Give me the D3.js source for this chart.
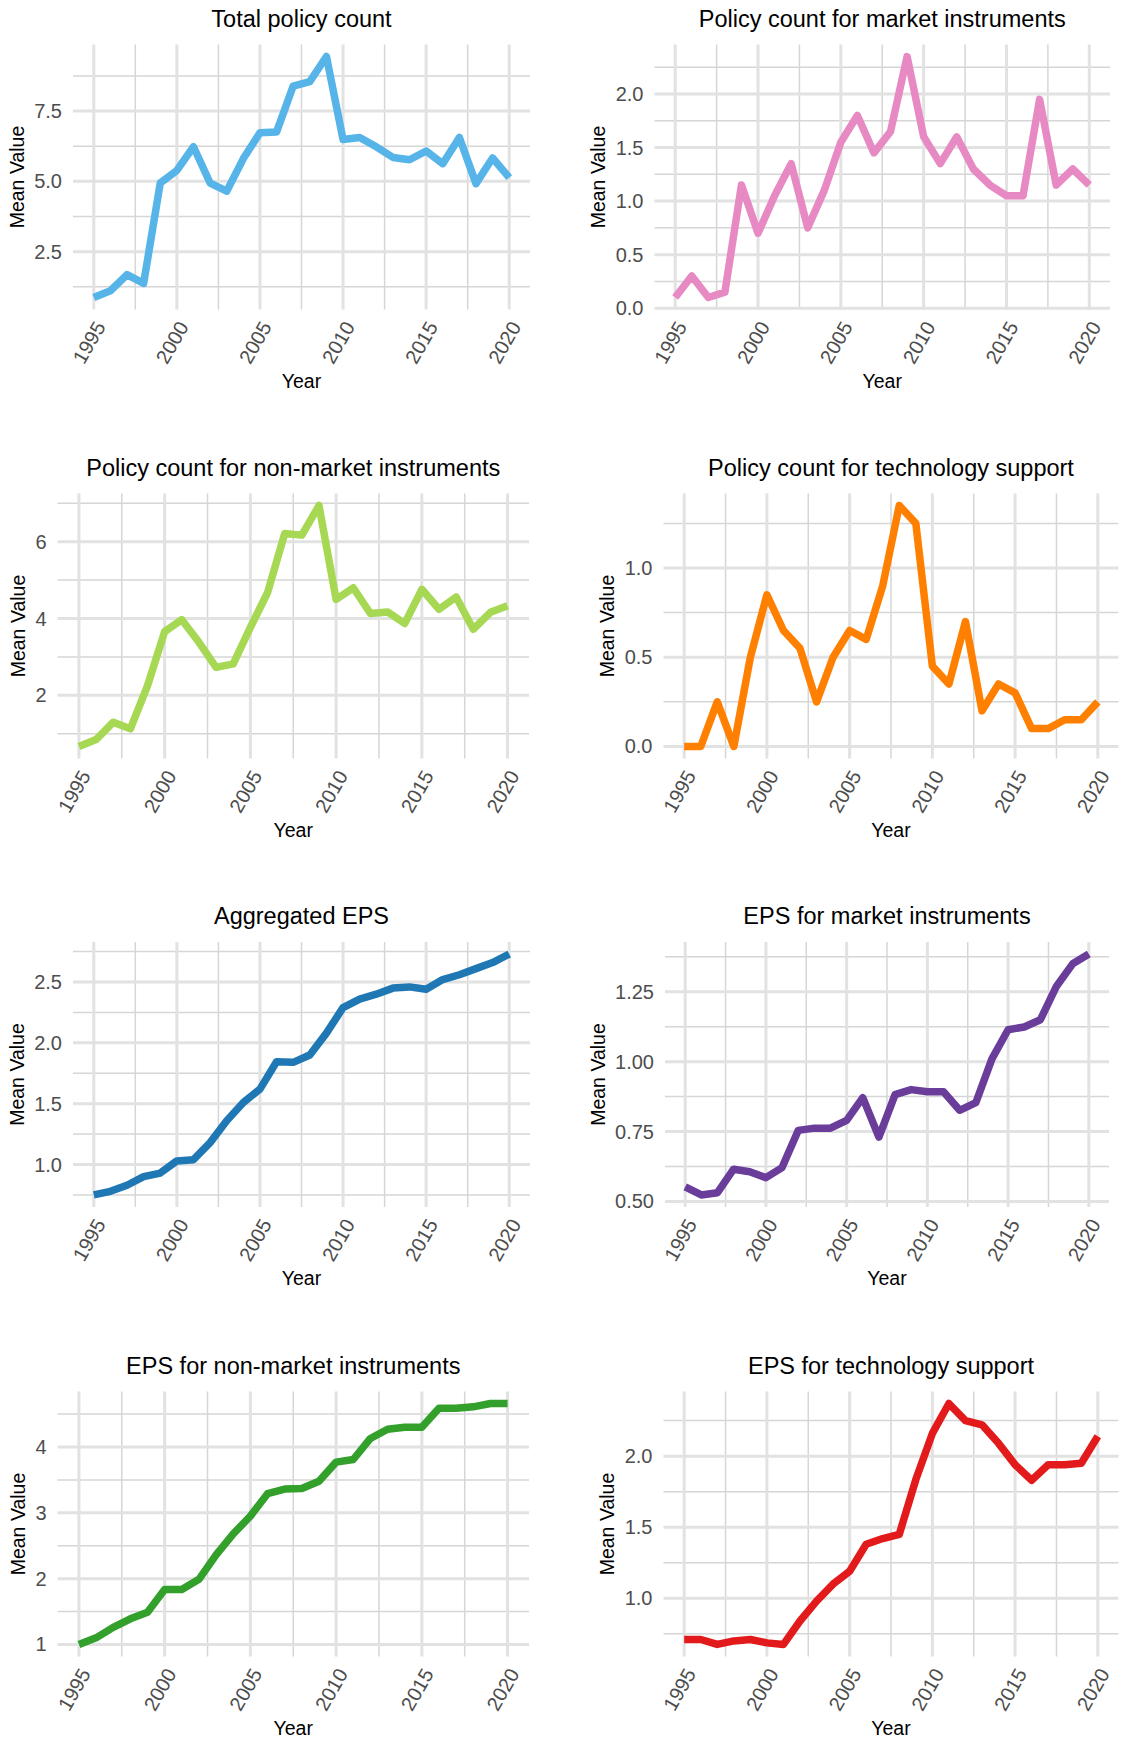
<!DOCTYPE html>
<html>
<head>
<meta charset="utf-8">
<script src="https://cdn.jsdelivr.net/npm/d3@7"></script>
<style>
  body { margin: 0; background: #fff; }
  text { font-family: "Liberation Sans", Arial, sans-serif; }
</style>
</head>
<body>
<script>
// years on the x axis
var years = [1995, 1996, 1997, 1998, 1999, 2000, 2001, 2002, 2003, 2004, 2005, 2006, 2007,
             2008, 2009, 2010, 2011, 2012, 2013, 2014, 2015, 2016, 2017, 2018, 2019, 2020];
var yearTicks = [1995, 2000, 2005, 2010, 2015, 2020];

// mean values per panel
var totalCount = [0.87, 1.11, 1.68, 1.37, 4.94, 5.39, 6.23, 4.94, 4.65, 5.81, 6.73, 6.76, 8.39,
                  8.55, 9.44, 6.49, 6.56, 6.23, 5.85, 5.77, 6.08, 5.63, 6.56, 4.92, 5.83, 5.13];
var marketCount = [0.1, 0.3, 0.1, 0.15, 1.15, 0.7, 1.05, 1.35, 0.75, 1.1, 1.55, 1.8, 1.45,
                   1.65, 2.35, 1.6, 1.35, 1.6, 1.3, 1.15, 1.05, 1.05, 1.95, 1.15, 1.3, 1.15];
var nonMarketCount = [0.67, 0.85, 1.3, 1.13, 2.25, 3.66, 3.97, 3.38, 2.73, 2.82, 3.77, 4.67, 6.21,
                      6.17, 6.94, 4.5, 4.8, 4.13, 4.17, 3.87, 4.76, 4.24, 4.56, 3.72, 4.16, 4.33];
var techCount = [0, 0, 0.25, 0, 0.5, 0.85, 0.65, 0.55, 0.25, 0.5, 0.65, 0.6, 0.9,
                 1.35, 1.25, 0.45, 0.35, 0.7, 0.2, 0.35, 0.3, 0.1, 0.1, 0.15, 0.15, 0.25];
var epsAll = [0.75, 0.78, 0.83, 0.9, 0.93, 1.03, 1.04, 1.18, 1.36, 1.51, 1.62, 1.845, 1.84,
              1.9, 2.08, 2.29, 2.36, 2.4, 2.45, 2.46, 2.44, 2.52, 2.56, 2.61, 2.66, 2.73];
var epsMarket = [0.552, 0.523, 0.531, 0.615, 0.606, 0.585, 0.621, 0.754, 0.762, 0.762, 0.79, 0.871, 0.73,
                 0.882, 0.9, 0.892, 0.892, 0.826, 0.853, 1.01, 1.114, 1.124, 1.15, 1.27, 1.35, 1.385];
var epsNonMarket = [1.0, 1.1, 1.26, 1.39, 1.49, 1.835, 1.835, 1.99, 2.36, 2.68, 2.95, 3.29, 3.36,
                    3.37, 3.48, 3.77, 3.81, 4.13, 4.27, 4.3, 4.3, 4.59, 4.59, 4.61, 4.66, 4.66];
var epsTech = [0.71, 0.71, 0.675, 0.7, 0.71, 0.686, 0.675, 0.84, 0.98, 1.1, 1.19, 1.38, 1.42,
               1.45, 1.835, 2.16, 2.37, 2.25, 2.22, 2.09, 1.94, 1.83, 1.94, 1.94, 1.95, 2.14];

// y tick labels per panel
var ticksTotal = [2.5, 5.0, 7.5];
var ticksMarket = [0.0, 0.5, 1.0, 1.5, 2.0];
var ticksNonMarket = [2, 4, 6];
var ticksTech = [0.0, 0.5, 1.0];
var ticksEpsAll = [1.0, 1.5, 2.0, 2.5];
var ticksEpsMarket = [0.50, 0.75, 1.00, 1.25];
var ticksEpsNonMarket = [1, 2, 3, 4];
var ticksEpsTech = [1.0, 1.5, 2.0];

var w = 1121, h = 1740;
var ph = 265;  // plot area height

var panels = [
  {title: "Total policy count", values: totalCount, ticks: ticksTotal, fmt: ".1f",
   color: "#56B4E9", left: 73, right: 530, top: 44.5},
  {title: "Policy count for market instruments", values: marketCount, ticks: ticksMarket, fmt: ".1f",
   color: "#E78AC3", left: 654.5, right: 1110, top: 44.5},
  {title: "Policy count for non-market instruments", values: nonMarketCount, ticks: ticksNonMarket, fmt: "d",
   color: "#A6D854", left: 57.5, right: 529, top: 493.5},
  {title: "Policy count for technology support", values: techCount, ticks: ticksTech, fmt: ".1f",
   color: "#FF7F00", left: 663.5, right: 1118.5, top: 493.5},
  {title: "Aggregated EPS", values: epsAll, ticks: ticksEpsAll, fmt: ".1f",
   color: "#1F78B4", left: 73, right: 530, top: 942},
  {title: "EPS for market instruments", values: epsMarket, ticks: ticksEpsMarket, fmt: ".2f",
   color: "#6A3D9A", left: 665, right: 1109, top: 942},
  {title: "EPS for non-market instruments", values: epsNonMarket, ticks: ticksEpsNonMarket, fmt: "d",
   color: "#33A02C", left: 57.5, right: 529, top: 1391.5},
  {title: "EPS for technology support", values: epsTech, ticks: ticksEpsTech, fmt: ".1f",
   color: "#E31A1C", left: 663.5, right: 1118.5, top: 1391.5}
];

var svg = d3.select("body")
            .append("svg")
            .attr("width", w)
            .attr("height", h);

panels.forEach(drawPanel);

function minorBreaks(majors, lo, hi) {
  /* ggplot style minor breaks: halfway between majors, also past the ends */
  var step = majors[1] - majors[0];
  var out = [];
  for (var k = -3; k < majors.length + 3; k++) {
    var v = majors[0] + (k + 0.5) * step;
    if (v >= lo && v <= hi) out.push(v);
  }
  return out;
}

function drawPanel(p) {
  var bottom = p.top + ph;

  // x scale, 5% expansion like ggplot
  var xPad = (years[years.length - 1] - years[0]) * 0.05;
  var xScale = d3.scaleLinear()
                 .domain([years[0] - xPad, years[years.length - 1] + xPad])
                 .range([p.left, p.right]);

  var ext = d3.extent(p.values);
  var yPad = (ext[1] - ext[0]) * 0.05;
  var yScale = d3.scaleLinear()
                 .domain([ext[0] - yPad, ext[1] + yPad])
                 .range([bottom, p.top]);

  var g = svg.append("g");

  // minor grid
  var xMinor = minorBreaks(yearTicks, xScale.domain()[0], xScale.domain()[1]);
  var yMinor = minorBreaks(p.ticks, yScale.domain()[0], yScale.domain()[1]);

  g.selectAll(".xminor").data(xMinor).enter().append("line")
   .attr("x1", d => xScale(d)).attr("x2", d => xScale(d))
   .attr("y1", p.top).attr("y2", bottom)
   .attr("stroke", "#d6d6d6").attr("stroke-width", 1.5);
  g.selectAll(".yminor").data(yMinor).enter().append("line")
   .attr("y1", d => yScale(d)).attr("y2", d => yScale(d))
   .attr("x1", p.left).attr("x2", p.right)
   .attr("stroke", "#d6d6d6").attr("stroke-width", 1.5);

  // major grid
  g.selectAll(".xmajor").data(yearTicks).enter().append("line")
   .attr("x1", d => xScale(d)).attr("x2", d => xScale(d))
   .attr("y1", p.top).attr("y2", bottom)
   .attr("stroke", "#e2e2e2").attr("stroke-width", 3);
  g.selectAll(".ymajor").data(p.ticks).enter().append("line")
   .attr("y1", d => yScale(d)).attr("y2", d => yScale(d))
   .attr("x1", p.left).attr("x2", p.right)
   .attr("stroke", "#e2e2e2").attr("stroke-width", 3);

  // the series
  var line = d3.line()
               .x((d, i) => xScale(years[i]))
               .y(d => yScale(d));
  g.append("path")
   .datum(p.values)
   .attr("d", line)
   .attr("fill", "none")
   .attr("stroke", p.color)
   .attr("stroke-width", 7.5)
   .attr("stroke-linejoin", "round");

  // y tick labels
  var fmt = d3.format(p.fmt);
  var ylab = g.selectAll(".ytick").data(p.ticks).enter().append("text")
              .attr("x", p.left - 11)
              .attr("y", d => yScale(d))
              .attr("dy", "0.35em")
              .attr("text-anchor", "end")
              .style("font-size", "20px")
              .attr("fill", "#4d4d4d")
              .text(d => fmt(d));

  var maxW = 0;
  ylab.each(function() { maxW = Math.max(maxW, this.getComputedTextLength()); });

  // x tick labels, rotated 60 degrees
  g.selectAll(".xtick").data(yearTicks).enter().append("text")
   .attr("transform", d => "translate(" + xScale(d) + "," + (bottom + 10) + ") rotate(-60)")
   .attr("dy", "0.72em")
   .attr("text-anchor", "end")
   .style("font-size", "20px")
   .attr("fill", "#4d4d4d")
   .text(d => d);

  // titles
  var cx = (p.left + p.right) / 2;
  g.append("text")
   .attr("x", cx)
   .attr("y", p.top - 18)
   .attr("text-anchor", "middle")
   .style("font-size", "23.5px")
   .attr("fill", "#000")
   .text(p.title);

  g.append("text")
   .attr("x", cx)
   .attr("y", bottom + 78)
   .attr("text-anchor", "middle")
   .style("font-size", "19.5px")
   .attr("fill", "#000")
   .text("Year");

  var ty = (p.top + bottom) / 2;
  var tx = p.left - 11 - maxW - 17 + 6.8;
  g.append("text")
   .attr("transform", "translate(" + tx + "," + ty + ") rotate(-90)")
   .attr("text-anchor", "middle")
   .style("font-size", "19.5px")
   .attr("fill", "#000")
   .text("Mean Value");
}
</script>
</body>
</html>
